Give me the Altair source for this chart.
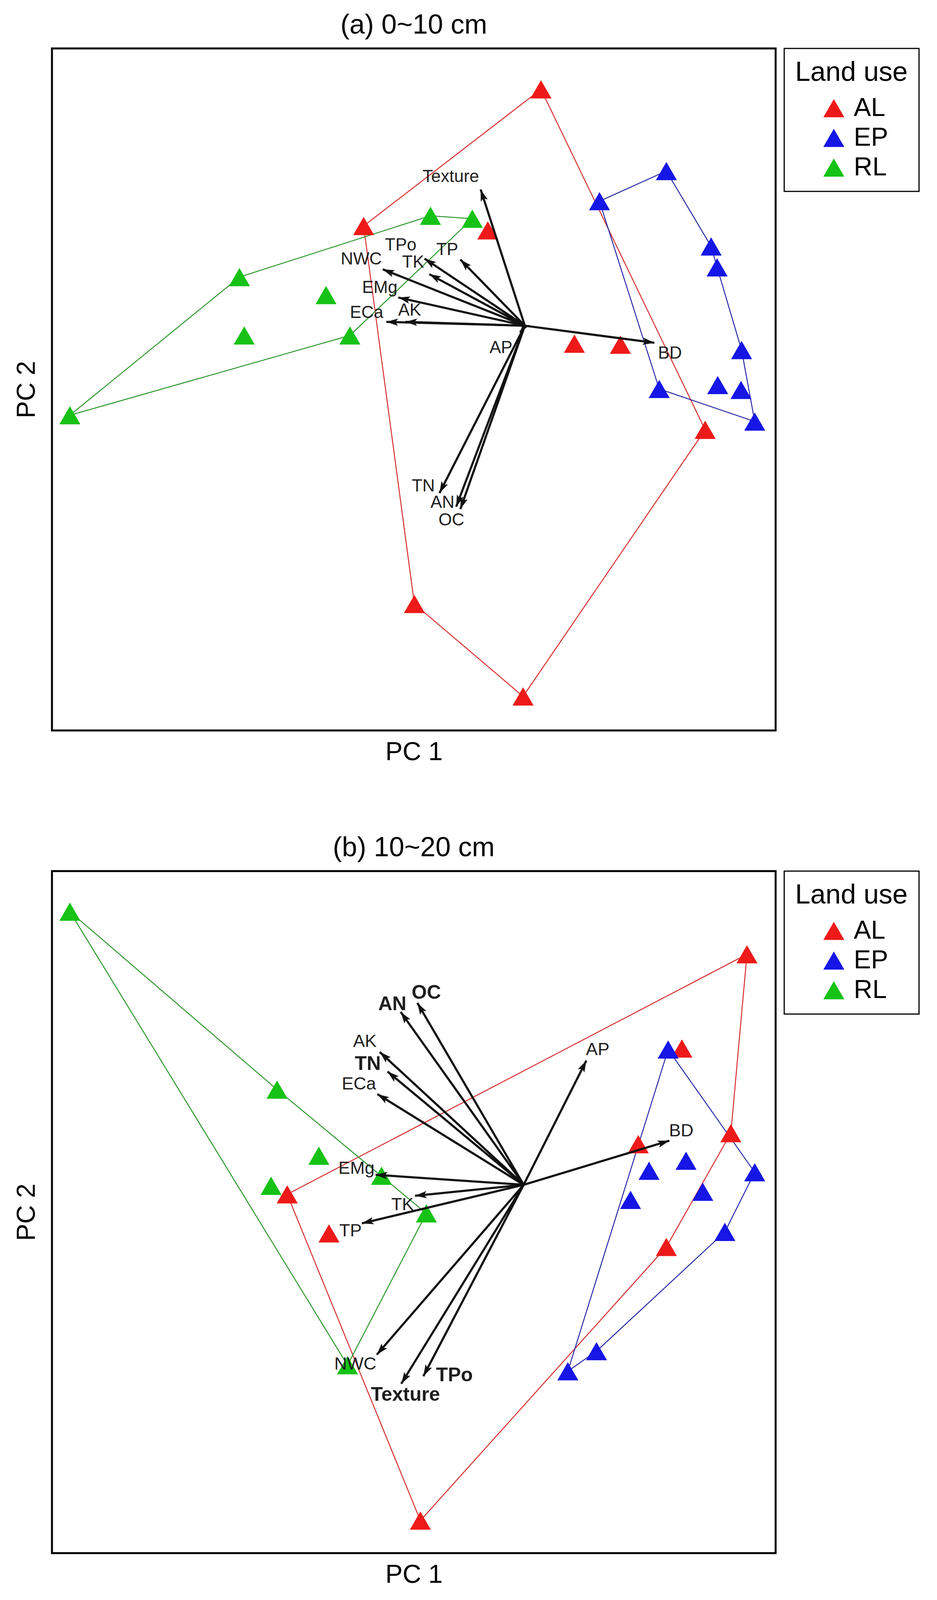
import math
import altair as alt
import pandas as pd

GROUPS = ["AL", "EP", "RL"]
FILL_COLORS = ["#EE1A1A", "#1616E6", "#16C216"]
LINE_COLORS = ["#D62E2E", "#2A2AA8", "#2C972C"]
FONT = "Liberation Sans"

# ---------------- panel (a) 0~10 cm ----------------
A_TITLE = "(a) 0~10 cm"
A_AL_PC1 = [0.27, -2.70, -0.62, 0.83, 1.60, 3.02, -1.85, -0.03]
A_AL_PC2 = [4.86, 2.05, 1.96, -0.37, -0.39, -2.14, -5.72, -7.62]
A_EP_PC1 = [1.25, 2.37, 3.12, 3.22, 3.63, 3.23, 3.62, 2.25, 3.85]
A_EP_PC2 = [2.56, 3.18, 1.63, 1.20, -0.50, -1.22, -1.32, -1.30, -1.97]
A_RL_PC1 = [-7.62, -4.78, -3.33, -4.70, -2.93, -1.58, -0.88]
A_RL_PC2 = [-1.84, 1.00, 0.63, -0.20, -0.20, 2.26, 2.20]
A_HULL = {"AL": [0, 5, 7, 6, 1], "EP": [0, 1, 2, 3, 4, 8, 7], "RL": [0, 1, 5, 6, 4]}
A_VARS = ["Texture", "TP", "TPo", "TK", "NWC", "EMg", "AK", "ECa", "AP", "BD", "TN", "AN", "OC"]
A_VEC_PC1 = [-0.74, -1.08, -1.68, -1.60, -2.38, -2.12, -2.00, -2.32, -0.08, 2.17, -1.43, -1.15, -1.08]
A_VEC_PC2 = [2.80, 1.36, 1.38, 1.06, 1.16, 0.58, 0.08, 0.08, -0.14, -0.35, -3.44, -3.72, -3.77]
A_LAB_PC1 = [-1.24, -1.30, -2.08, -1.87, -2.74, -2.43, -1.93, -2.65, -0.40, 2.43, -1.70, -1.38, -1.23]
A_LAB_PC2 = [3.06, 1.56, 1.65, 1.30, 1.36, 0.78, 0.31, 0.26, -0.46, -0.57, -3.30, -3.64, -4.00]
A_PC1_RANGE = [-7.92, 4.20]
A_PC2_RANGE = [-8.32, 5.70]

# ---------------- panel (b) 10~20 cm ----------------
B_TITLE = "(b) 10~20 cm"
B_AL_PC1 = [3.74, 2.65, 3.47, 1.92, -3.96, -3.26, 2.39, -1.73]
B_AL_PC2 = [4.60, 2.72, 1.03, 0.81, -0.19, -0.97, -1.24, -6.70]
B_EP_PC1 = [2.42, 2.72, 2.10, 3.87, 3.00, 1.79, 3.37, 1.22, 0.74]
B_EP_PC2 = [2.70, 0.48, 0.28, 0.25, -0.14, -0.30, -0.94, -3.32, -3.72]
B_RL_PC1 = [-7.60, -4.13, -3.43, -4.23, -2.38, -1.63, -2.95]
B_RL_PC2 = [5.45, 1.90, 0.58, -0.02, 0.18, -0.57, -3.60]
B_HULL = {"AL": [0, 2, 6, 7, 4], "EP": [0, 3, 6, 7, 8], "RL": [0, 1, 5, 6]}
B_VARS = ["OC", "AN", "AK", "TN", "ECa", "AP", "BD", "EMg", "TK", "TP", "NWC", "Texture", "TPo"]
B_VEC_PC1 = [-1.78, -2.06, -2.41, -2.28, -2.45, 1.05, 2.44, -2.48, -1.82, -2.71, -2.46, -2.05, -1.68]
B_VEC_PC2 = [3.63, 3.45, 2.65, 2.26, 1.81, 2.48, 0.88, 0.20, -0.22, -0.77, -3.39, -3.97, -3.82]
B_LAB_PC1 = [-1.63, -2.20, -2.66, -2.61, -2.76, 1.24, 2.64, -2.80, -2.03, -2.90, -2.82, -1.98, -1.16]
B_LAB_PC2 = [3.83, 3.60, 2.86, 2.41, 2.01, 2.70, 1.08, 0.33, -0.40, -0.92, -3.58, -4.19, -3.80]
B_PC1_RANGE = [-7.90, 4.22]
B_PC2_RANGE = [-7.35, 6.26]
B_EMPH = {"AN", "OC", "TN", "TPo", "Texture"}

# ---------------- styling ----------------
W, H = 1852, 1746
HEAD = "M0,0L-0.5,1.6L0,1.25L0.5,1.6Z"


def panel(title, pts, hull, vars_, vx, vy, lx, ly, xr, yr, emph, fs_norm, fs_big):
    kx = W / (xr[1] - xr[0])
    ky = H / (yr[1] - yr[0])
    prow = []
    hrow = []
    for g, (xs, ys) in zip(GROUPS, pts):
        for a, b in zip(xs, ys):
            prow.append({"group": g, "x": a, "y": b})
        ring = hull[g] + [hull[g][0]]
        for s, i in enumerate(ring):
            hrow.append({"hull": g, "seq": s, "x": xs[i], "y": ys[i]})
    pdf = pd.DataFrame(prow)
    hdf = pd.DataFrame(hrow)
    vrow = []
    for n, a, b, c, d in zip(vars_, vx, vy, lx, ly):
        ang = math.degrees(math.atan2(a * kx, b * ky)) % 360
        big = n in emph
        vrow.append({"var": n, "x0": 0.0, "y0": 0.0, "x": a, "y": b, "ang": ang,
                     "lx": c, "ly": d, "fs": fs_big if big else fs_norm, "big": big})
    vdf = pd.DataFrame(vrow)

    xs = alt.Scale(domain=xr, nice=False, zero=False)
    ys = alt.Scale(domain=yr, nice=False, zero=False)

    def X(f):
        return alt.X(f, type="quantitative", scale=xs, title="PC 1")

    def Y(f):
        return alt.Y(f, type="quantitative", scale=ys, title="PC 2")

    hull_layers = []
    for g, lc in zip(GROUPS, LINE_COLORS):
        hull_layers.append(
            alt.Chart(hdf).transform_filter(alt.datum.hull == g).mark_line(strokeWidth=2.5, color=lc).encode(
                x=X("x"), y=Y("y"), order="seq:Q"
            )
        )
    pts_layer = alt.Chart(pdf).mark_point(shape="triangle-up", filled=True, size=2900, opacity=1).encode(
        x=X("x"), y=Y("y"),
        color=alt.Color("group:N", scale=alt.Scale(domain=GROUPS, range=FILL_COLORS),
                        legend=alt.Legend(title="Land use", orient="right", offset=22,
                                          titleFontSize=70, labelFontSize=66, titleLimit=1000,
                                          symbolType="triangle-up", symbolSize=2900,
                                          strokeColor="black", padding=28, titlePadding=22,
                                          rowPadding=10, symbolOffset=66, labelOffset=18)),
    )
    rule_layer = alt.Chart(vdf).mark_rule(color="#111111", strokeWidth=5.5).encode(
        x=X("x0"), y=Y("y0"), x2="x", y2="y"
    )
    head_layer = alt.Chart(vdf).mark_point(shape=HEAD, filled=True, size=1400, color="#111111",
                                          opacity=1, strokeWidth=0).encode(
        x=X("x"), y=Y("y"), angle=alt.Angle("ang:Q", scale=None)
    )
    lab_norm = alt.Chart(vdf).transform_filter("!datum.big").mark_text(
        font=FONT, color="#1e1e1e", align="center", baseline="middle").encode(
        x=X("lx"), y=Y("ly"), text="var:N", size=alt.Size("fs:Q", scale=None)
    )
    lab_big = alt.Chart(vdf).transform_filter("datum.big").mark_text(
        font=FONT, color="#1e1e1e", align="center", baseline="middle", fontWeight="bold").encode(
        x=X("lx"), y=Y("ly"), text="var:N", size=alt.Size("fs:Q", scale=None)
    )
    return alt.layer(*hull_layers, pts_layer, rule_layer, head_layer, lab_norm, lab_big).properties(
        width=W, height=H, title=title
    )


pa = panel(A_TITLE,
           [(A_AL_PC1, A_AL_PC2), (A_EP_PC1, A_EP_PC2), (A_RL_PC1, A_RL_PC2)],
           A_HULL, A_VARS, A_VEC_PC1, A_VEC_PC2, A_LAB_PC1, A_LAB_PC2,
           A_PC1_RANGE, A_PC2_RANGE, set(), 44, 44)
pb = panel(B_TITLE,
           [(B_AL_PC1, B_AL_PC2), (B_EP_PC1, B_EP_PC2), (B_RL_PC1, B_RL_PC2)],
           B_HULL, B_VARS, B_VEC_PC1, B_VEC_PC2, B_LAB_PC1, B_LAB_PC2,
           B_PC1_RANGE, B_PC2_RANGE, B_EMPH, 45, 50)


def build(legend_sw=True):
    ch = alt.vconcat(pa, pb, spacing=172).resolve_scale(
        x="independent", y="independent", color="independent"
    ).resolve_legend(color="independent").properties(
        padding={"left": 24, "top": 19, "right": 5, "bottom": 5}, background="white"
    ).configure_view(stroke="black", strokeWidth=5).configure_axis(
        domain=False, ticks=False, labels=False, grid=False,
        titleFont=FONT, titleFontSize=66, titleFontWeight="normal", titleColor="black"
    ).configure_axisX(titlePadding=23).configure_axisY(titlePadding=31).configure_title(
        font=FONT, fontSize=70, fontWeight="normal", color="black", anchor="middle", frame="group", offset=22
    )
    if legend_sw:
        ch = ch.configure_legend(
            titleFont=FONT, labelFont=FONT, titleFontWeight="normal", titleColor="black",
            labelColor="black", strokeWidth=3
        )
    else:
        ch = ch.configure_legend(
            titleFont=FONT, labelFont=FONT, titleFontWeight="normal", titleColor="black",
            labelColor="black"
        )
    return ch


try:
    chart = build(True)
    chart.save("out.html", embed_options={"renderer": "svg", "actions": False})
except Exception:
    chart = build(False)
    chart.save("out.html", embed_options={"renderer": "svg", "actions": False})
